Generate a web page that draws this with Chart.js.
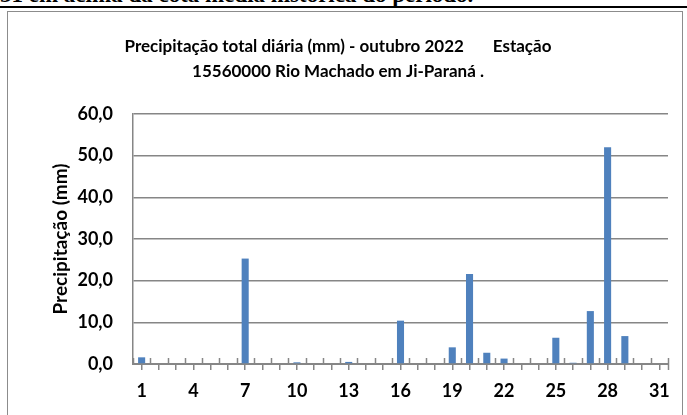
<!DOCTYPE html>
<html>
<head>
<meta charset="utf-8">
<script src="https://cdn.jsdelivr.net/npm/chart.js@4"></script>
<style>
  body { margin: 0; width: 687px; height: 415px; overflow: hidden; background: #fff; position: relative; }
  #topo { position: absolute; left: 0; top: -17px; font: bold 23px "Liberation Serif", serif; line-height: 23px; white-space: nowrap; color: #000; }
  #linha { position: absolute; left: 0; top: 6px; width: 687px; height: 2px; background: #000; }
  #caixa { position: absolute; left: 7px; top: 11px; width: 674px; height: 420px; border: 1px solid #8c8c8c; border-bottom: none; }
  #caixa canvas { position: absolute; left: 0; top: 0; }
</style>
</head>
<body>
<div id="topo">31 em acima da cota média histórica do período.</div>
<div id="linha"></div>
<div id="caixa"><canvas id="grafico" width="675" height="403"></canvas></div>
<script>
const dias = ['1','2','3','4','5','6','7','8','9','10','11','12','13','14','15','16',
              '17','18','19','20','21','22','23','24','25','26','27','28','29','30','31'];
const precipitacao = [1.6, 0, 0, 0, 0, 0, 25.3, 0, 0, 0.4, 0, 0, 0.5, 0, 0, 10.4,
                      0, 0, 4.0, 21.6, 2.7, 1.3, 0, 0, 6.3, 0.3, 12.7, 52.0, 6.7, 0, 0];
const tituloLinhas = ['Precipitação total diária (mm) - outubro 2022       Estação',
                      '15560000 Rio Machado em Ji-Paraná .'];
const tituloEixoY = 'Precipitação (mm)';

const cinza = '#868686';
const familia = 'Lato, "Open Sans", sans-serif';
const fonteTicks = { family: familia, weight: 'bold', size: 18 };

// tracinhos para cima entre as categorias, como no Excel
const ticksEntreCategorias = {
    id: 'ticksEntreCategorias',
    afterDatasetsDraw(chart) {
        const x = chart.scales.x, y = chart.scales.y;
        const ctx = chart.ctx;
        const base = y.getPixelForValue(0);
        ctx.save();
        ctx.strokeStyle = cinza;
        ctx.lineWidth = 1.5;
        for (let i = 0; i <= dias.length; i++) {
            const px = Math.round((x.getPixelForValue(i - 0.5))) + 0.5;
            ctx.beginPath();
            ctx.moveTo(px, base - 6);
            ctx.lineTo(px, base + (i === dias.length ? 6 : 0));
            ctx.stroke();
        }
        ctx.restore();
    }
};

new Chart(document.getElementById('grafico'), {
    type: 'bar',
    data: {
        labels: dias,
        datasets: [{
            data: precipitacao,
            backgroundColor: '#4F81BD',
            borderWidth: 0,
            barPercentage: 0.41,
            categoryPercentage: 1
        }]
    },
    options: {
        responsive: false,
        animation: false,
        layout: { padding: { left: 0, right: 15, top: 0, bottom: 0 } },
        plugins: {
            legend: { display: false },
            tooltip: { enabled: false },
            title: {
                display: true,
                text: tituloLinhas,
                color: '#000',
                font: { family: familia, weight: 'bold', size: 17, lineHeight: 1.47 },
                padding: { top: 22, bottom: 30 }
            }
        },
        scales: {
            x: {
                grid: { display: true, offset: false, drawOnChartArea: false, color: cinza, lineWidth: 1.5, tickLength: 6 },
                border: { color: cinza, width: 2 },
                ticks: {
                    autoSkip: false, maxRotation: 0, color: '#000', font: fonteTicks, padding: 10,
                    callback: (v, i) => (i % 3 === 0 ? dias[i] : '')
                },
                afterFit: s => { s.height = 51; }
            },
            y: {
                min: 0, max: 60,
                ticks: { stepSize: 10, color: '#000', font: fonteTicks, padding: 20,
                         callback: v => v.toFixed(1).replace('.', ',') },
                grid: { color: cinza, lineWidth: 1.5, drawTicks: false },
                border: { color: cinza, width: 1.5 },
                title: { display: true, text: tituloEixoY, color: '#000',
                         font: { family: familia, weight: 'bold', size: 19 }, padding: { top: 41, bottom: 0 } },
                afterFit: s => { s.width = 125; }
            }
        }
    },
    plugins: [ticksEntreCategorias]
});
</script>
</body>
</html>
